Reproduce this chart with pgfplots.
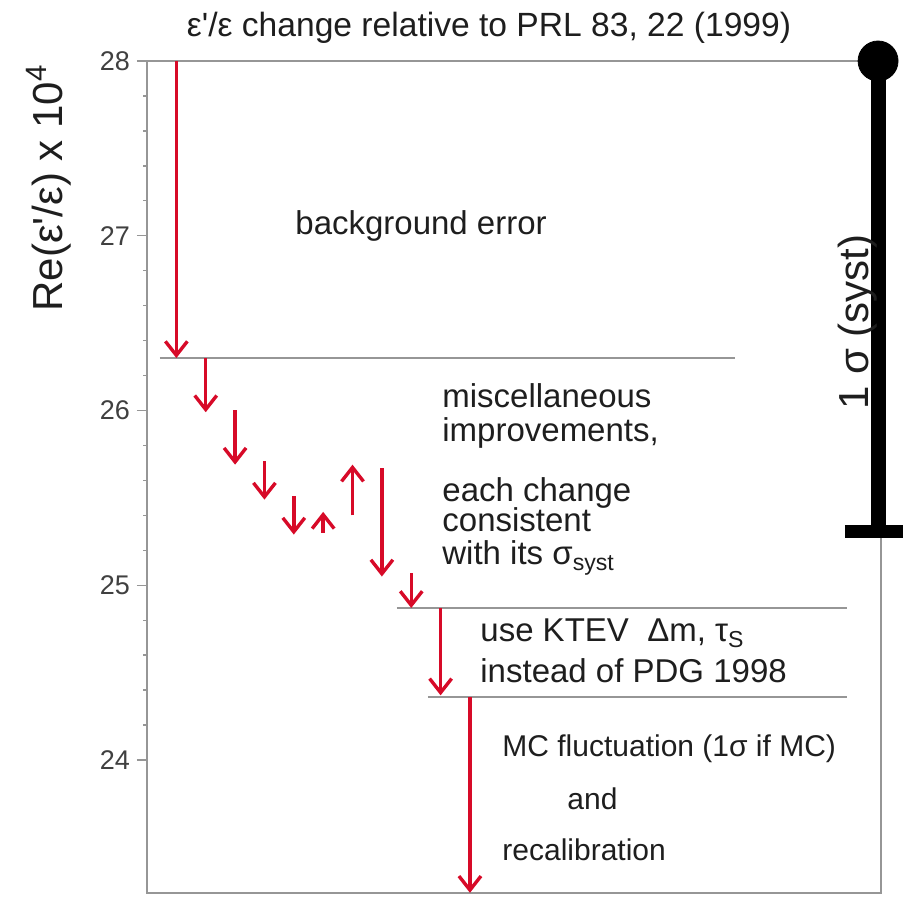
\documentclass[border=0pt]{standalone}
\usepackage{pgfplots}
\pgfplotsset{compat=1.18}
\usepackage{fontspec}
\setmainfont{Liberation Sans}
\usetikzlibrary{arrows.meta}
\definecolor{arrred}{RGB}{215,10,40}
\definecolor{axgray}{RGB}{150,150,150}
\definecolor{txt}{RGB}{30,30,30}
\pgfplotstableread{
x y dy
1 28.00 -1.70
2 26.30 -0.31
3 26.00 -0.31
4 25.71 -0.22
5 25.51 -0.22
6 25.30 0.12
7 25.40 0.29
8 25.67 -0.62
9 25.07 -0.20
10 24.87 -0.50
11 24.36 -1.12
}\arrowdata
\begin{document}
\begin{tikzpicture}
\begin{axis}[
  at={(73.5pt,2.5pt)}, anchor=south west,
  width=367pt, height=416pt, scale only axis,
  xmin=0, xmax=25, ymin=23.239, ymax=28,
  xtick=\empty, ytick={24,25,26,27,28},
  minor y tick num=4,
  ytick pos=left, tick align=outside,
  major tick length=5pt, minor tick length=2pt,
  axis line style={axgray, line width=0.7pt},
  every tick/.style={axgray, line width=0.7pt},
  yticklabel style={font=\fontsize{13.5}{13.5}\selectfont, text=txt!85},
  /pgf/number format/assume math mode=true,
  clip=false,
]
% horizontal level lines
\addplot[axgray, line width=0.7pt] coordinates {(0.44,26.30) (20.03,26.30)};
\addplot[axgray, line width=0.7pt] coordinates {(8.51,24.87) (23.84,24.87)};
\addplot[axgray, line width=0.7pt] coordinates {(9.57,24.36) (23.84,24.36)};
% arrows
\addplot[arrred, line width=1.7pt,
  quiver={u=0, v=\thisrow{dy}},
  -{Straight Barb[length=7pt,width=11pt,line width=1.7pt]}]
  table[x=x, y=y] {\arrowdata};
% 1 sigma syst bar
\addplot[black, line width=7.5pt] coordinates {(24.90,28) (24.90,25.31)};
\addplot[black, line width=6.5pt] coordinates {(23.77,25.31) (25.75,25.31)};
\addplot[black, only marks, mark=*, mark size=10pt] coordinates {(24.90,28)};
\end{axis}
\begin{scope}[x=0.5pt, y=-0.5pt, yshift=449pt, text=txt]
\node[anchor=base, inner sep=0pt, font=\fontsize{16.8}{18}\selectfont] at (489,37) {ε\textquotesingle/ε change relative to PRL 83, 22 (1999)};
\node[anchor=base, inner sep=0pt, rotate=90, font=\fontsize{21}{24}\selectfont] at (62,188) {Re(ε\textquotesingle/ε) x 10\textsuperscript{4}};
\node[anchor=base west, inner sep=0pt, font=\fontsize{16.5}{18}\selectfont] at (295,235) {background error};
\begin{scope}[every node/.style={anchor=base west, font=\fontsize{16.5}{18}\selectfont, inner sep=0pt}]
\node at (442,408) {miscellaneous};
\node at (442,442) {improvements,};
\node at (442,502) {each change};
\node at (442,532) {consistent};
\node at (442,565) {with its σ\textsubscript{syst}};
\node at (480,642) {use KTEV \ Δm, τ\textsubscript{S}};
\node at (480,683) {instead of PDG 1998};
\end{scope}
\begin{scope}[every node/.style={anchor=base west, font=\fontsize{15}{17}\selectfont, inner sep=0pt}]
\node at (502,757) {MC fluctuation (1σ if MC)};
\node at (567,810) {and};
\node at (502,860) {recalibration};
\end{scope}
\node[anchor=base, inner sep=0pt, rotate=90, font=\fontsize{21}{24}\selectfont] at (868,322) {1 σ (syst)};
\end{scope}
\pgfresetboundingbox
\path[use as bounding box] (0,0) rectangle (451.5pt,449pt);
\end{tikzpicture}
\end{document}
